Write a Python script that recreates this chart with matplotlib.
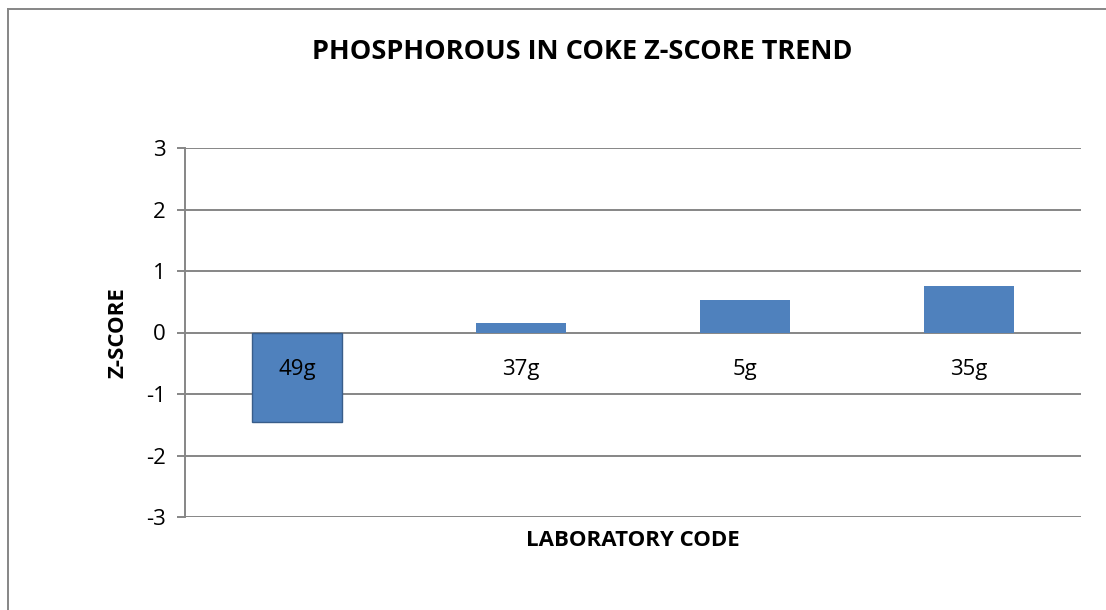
import matplotlib
matplotlib.use("Agg")
import matplotlib.pyplot as plt
from matplotlib.lines import Line2D

# données
labos = ["49g", "37g", "5g", "35g"]
z_scores = [-1.46, 0.16, 0.53, 0.76]
y_ticks = [-3, -2, -1, 0, 1, 2, 3]

plt.rcParams['font.family'] = ['Open Sans', 'DejaVu Sans']
gris = '#868686'

fig = plt.figure(figsize=(11.06, 6.10), dpi=100)
ax = fig.add_axes([185 / 1106, 1 - 517 / 610, (1081 - 185) / 1106, (517 - 148) / 610])

x = list(range(len(labos)))
bars = ax.bar(x, z_scores, width=0.40, color='#4F81BD', zorder=3)
# la barre négative a un contour plus foncé
for b, v in zip(bars, z_scores):
    if v < 0:
        b.set_edgecolor('#385D8A')
        b.set_linewidth(1.0)

ax.set_xlim(-0.5, len(labos) - 0.5)
ax.set_ylim(-3, 3)
ax.set_yticks(y_ticks)
ax.set_yticklabels([str(t) for t in y_ticks], fontsize=16)
ax.yaxis.grid(True, color=gris, linewidth=1.4, zorder=0)
ax.tick_params(axis='y', length=6, width=1.4, color=gris, pad=8)

# étiquettes des labos sous la ligne zéro, par-dessus les barres
ax.set_xticks([])
for xi, lab in zip(x, labos):
    ax.annotate(lab, (xi, 0), xytext=(0, -37), textcoords='offset pixels',
                ha='center', va='center', fontsize=16, zorder=5)

for s in ['top', 'right', 'bottom']:
    ax.spines[s].set_visible(False)
ax.spines['left'].set_color(gris)
ax.spines['left'].set_linewidth(1.4)

fig.text(582 / 1106, 1 - 52 / 610, "PHOSPHOROUS IN COKE Z-SCORE TREND",
         ha='center', va='center', fontsize=19.5, fontweight='bold')
fig.text(118 / 1106, 1 - 333 / 610, "Z-SCORE", rotation=90,
         ha='center', va='center', fontsize=16, fontweight='bold')
fig.text(633 / 1106, 1 - 540 / 610, "LABORATORY CODE",
         ha='center', va='center', fontsize=16, fontweight='bold')

# cadre du graphique (haut et gauche visibles)
fig.add_artist(Line2D([8 / 1106, 8 / 1106], [0, 1 - 9 / 610], transform=fig.transFigure, color=gris, linewidth=1.4))
fig.add_artist(Line2D([8 / 1106, 1], [1 - 9 / 610, 1 - 9 / 610], transform=fig.transFigure, color=gris, linewidth=1.4))

fig.savefig("out.png", dpi=100)
